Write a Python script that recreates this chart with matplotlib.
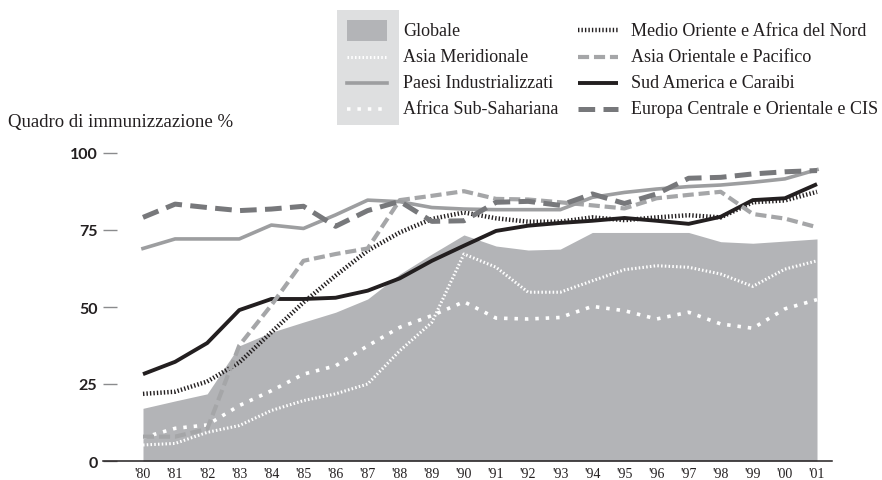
import matplotlib
matplotlib.use("Agg")
import matplotlib.pyplot as plt
from matplotlib.patches import Rectangle

plt.rcParams['lines.scale_dashes'] = False

# anni 1980-2001
anni = ["'80", "'81", "'82", "'83", "'84", "'85", "'86", "'87", "'88", "'89", "'90",
        "'91", "'92", "'93", "'94", "'95", "'96", "'97", "'98", "'99", "'00", "'01"]

globale = [17.1, 19.5, 21.8, 37.4, 41.8, 45.1, 48.3, 52.6, 60.7, 67.2, 73.4,
           69.8, 68.5, 68.8, 74.2, 74.2, 74.2, 74.2, 71.2, 70.7, 71.4, 72.1]
asia_merid = [5.2, 5.7, 9.3, 11.5, 16.4, 19.6, 21.8, 25.0, 35.8, 45.0, 67.2,
              62.9, 54.8, 54.8, 58.5, 62.1, 63.4, 62.9, 60.7, 56.7, 62.3, 65.0]
paesi_ind = [69.0, 72.1, 72.1, 72.1, 76.6, 75.5, 79.9, 84.7, 84.2, 82.3, 81.8,
             81.6, 81.6, 81.6, 85.6, 87.2, 88.3, 89.1, 89.6, 90.5, 91.6, 94.6]
africa_ss = [7.6, 10.6, 11.7, 18.0, 22.8, 28.2, 30.9, 37.4, 43.4, 47.2, 51.7,
             46.4, 46.1, 46.6, 50.2, 48.8, 46.1, 48.3, 44.5, 43.1, 49.4, 52.4]
medio_or = [21.8, 22.5, 25.8, 32.0, 41.8, 51.5, 60.2, 68.3, 74.2, 78.6, 80.7,
            78.8, 77.7, 77.7, 79.1, 78.2, 79.1, 79.8, 79.1, 84.0, 84.6, 87.4]
asia_or = [7.9, 7.9, 10.4, 37.5, 50.6, 65.0, 67.2, 69.0, 84.7, 86.1, 87.6,
           85.1, 84.9, 84.0, 83.0, 82.0, 85.3, 86.4, 87.4, 80.2, 78.7, 75.9]
sud_am = [28.2, 32.2, 38.3, 49.0, 52.6, 52.6, 53.0, 55.3, 59.3, 65.0, 69.9,
          74.7, 76.4, 77.3, 78.0, 78.9, 78.0, 77.0, 79.3, 84.7, 85.3, 89.9]
europa = [79.1, 83.4, 82.3, 81.3, 81.8, 82.7, 76.2, 81.3, 84.3, 77.8, 78.0,
          84.0, 84.3, 83.0, 86.7, 83.6, 86.7, 91.8, 92.1, 93.2, 93.9, 94.3]

x = list(range(len(anni)))

# stili delle serie
st_fill = dict(color='#b3b4b7', lw=0)
st_asia_merid = dict(color='white', lw=2.2, dashes=(1.1, 1.6))
st_paesi = dict(color='#9d9ea0', lw=2.6)
st_africa = dict(color='white', lw=2.6, dashes=(2.5, 5.0))
st_medio = dict(color='#231f20', lw=3.2, dashes=(1.0, 1.5))
st_asia_or = dict(color='#a5a6a8', lw=3.0, dashes=(8.0, 3.5))
st_sud = dict(color='#231f20', lw=2.8, solid_capstyle='butt')
st_europa = dict(color='#77787b', lw=3.6, dashes=(12.0, 6.0))

serif = 'Liberation Serif'

fig = plt.figure(figsize=(8.82, 4.81), dpi=100)
W, H = 882, 481
ax = fig.add_axes([103 / W, 1 - 462 / H, (832 - 103) / W, (462 - 138.6) / H])

ax.fill_between(x, 0, globale, **st_fill)
ax.plot(x, asia_merid, **st_asia_merid)
ax.plot(x, africa_ss, **st_africa)
ax.plot(x, medio_or, **st_medio)
ax.plot(x, sud_am, **st_sud)
ax.plot(x, asia_or, **st_asia_or)
ax.plot(x, paesi_ind, **st_paesi)
ax.plot(x, europa, **st_europa)

ax.set_xlim(-1.246, 21.467)
ax.set_ylim(0, 105)
for s in ['top', 'right', 'left']:
    ax.spines[s].set_visible(False)
ax.spines['bottom'].set_color('#231f20')
ax.spines['bottom'].set_linewidth(1.1)

ax.set_xticks(x)
ax.set_xticklabels(anni, fontfamily=serif, fontsize=10, color='#231f20')
ax.tick_params(axis='x', length=0, pad=4)
ax.set_yticks([0, 25, 50, 75, 100])
ax.set_yticklabels(['0', '25', '50', '75', '100'], fontfamily='Lato',
                   fontweight='bold', fontsize=11.5, color='#231f20')
ax.tick_params(axis='y', direction='in', length=10, width=1.0,
               color='#8a8b8d', pad=4)

fig.text(8 / W, 1 - 122 / H, 'Quadro di immunizzazione %', fontfamily=serif,
         fontsize=13.5, color='#231f20', va='center', ha='left')

# legenda disegnata a mano
lg = fig.add_axes([0, 0, 1, 1], zorder=5)
lg.set_xlim(0, W)
lg.set_ylim(H, 0)
lg.axis('off')
lg.add_patch(Rectangle((337, 11), 62, 115, color='#dedfe0', lw=0))

righe = [31, 57.5, 84, 110]
sinistra = [('Globale', None), ('Asia Meridionale', st_asia_merid),
            ('Paesi Industrializzati', st_paesi), ('Africa Sub-Sahariana', st_africa)]
destra = [('Medio Oriente e Africa del Nord', st_medio),
          ('Asia Orientale e Pacifico', st_asia_or),
          ('Sud America e Caraibi', st_sud),
          ('Europa Centrale e Orientale e CIS', st_europa)]

for yy, (nome, st) in zip(righe, sinistra):
    if st is None:
        lg.add_patch(Rectangle((347, yy - 10.5), 40, 21, color='#b3b4b7', lw=0))
    else:
        lg.plot([347, 387], [yy, yy], **st)
    lg.text(403, yy, nome, fontfamily=serif, fontsize=13, color='#231f20',
            va='center', ha='left')

for yy, (nome, st) in zip(righe, destra):
    lg.plot([578, 618], [yy, yy], **st)
    lg.text(631, yy, nome, fontfamily=serif, fontsize=13, color='#231f20',
            va='center', ha='left')

fig.savefig('out.png', dpi=100)
